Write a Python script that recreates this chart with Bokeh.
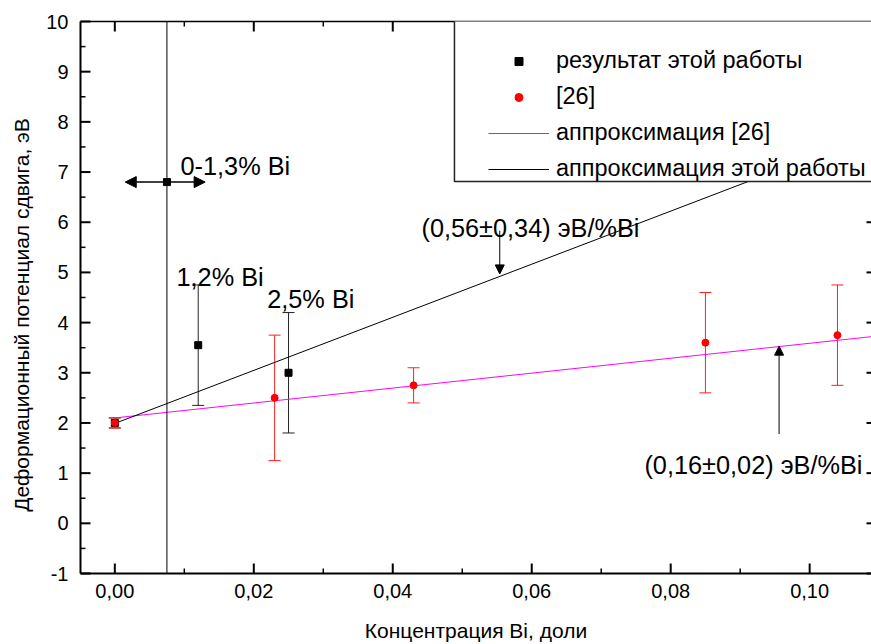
from bokeh.plotting import figure
from bokeh.models import (Range1d, LinearAxis, FixedTicker, CustomJSTickFormatter,
                          Whisker, ColumnDataSource, Span, Arrow, NormalHead, TeeHead, Label,
                          Legend, LegendItem, BoxAnnotation)
from bokeh.embed import file_html
from bokeh.resources import INLINE

# ---------------- data ----------------
# this work
work_x = [0.0, 0.012, 0.025]
work_y = [2.0, 3.55, 3.0]
work_lo = [1.9, 2.35, 1.8]
work_hi = [2.1, 4.75, 4.2]
# this work, averaged point for 0-1.3 % Bi
range_x = [0.0075]
range_y = [6.8]
range_x_lo = [0.0015]
range_x_hi = [0.013]
# reference [26]
ref_x = [0.0, 0.023, 0.043, 0.085, 0.104]
ref_y = [2.0, 2.5, 2.75, 3.6, 3.75]
ref_lo = [1.9, 1.25, 2.4, 2.6, 2.75]
ref_hi = [2.1, 3.75, 3.1, 4.6, 4.75]
# fits (end points)
fit_ref_x = [0.0, 0.1089]
fit_ref_y = [2.10, 3.72]
fit_work_x = [0.0, 0.1089]
fit_work_y = [1.99, 7.75]

# ticks
x_major = [0.0, 0.02, 0.04, 0.06, 0.08, 0.10]
x_minor = [0.01, 0.03, 0.05, 0.07, 0.09]
y_major = [-1, 0, 1, 2, 3, 4, 5, 6, 7, 8, 9, 10]
y_minor = [-0.5, 0.5, 1.5, 2.5, 3.5, 4.5, 5.5, 6.5, 7.5, 8.5, 9.5]

legend_labels = ["результат этой работы", "[26]", "аппроксимация [26]", "аппроксимация этой работы"]
x_title = "Концентрация Bi, доли"
y_title = "Деформационный потенциал сдвига, эВ"

FONT = "Liberation Sans"
W, H = 871, 644
BL, BR, BT, BB = 80, 0, 21, 71
X0, X1, Y0, Y1 = -0.00494, 0.1089, -1, 10
LEG_LEFT, LEG_BOTTOM = 0.04888, 6.81   # legend box corner (layout)

p = figure(width=W, height=H, output_backend="svg", toolbar_location=None,
           x_range=Range1d(X0, X1), y_range=Range1d(Y0, Y1),
           x_axis_type=None, y_axis_type=None,
           min_border_left=BL, min_border_right=BR, min_border_top=BT, min_border_bottom=BB)
p.outline_line_color = None
p.background_fill_color = None
p.border_fill_color = "white"

xt = FixedTicker(ticks=x_major, minor_ticks=x_minor)
yt = FixedTicker(ticks=y_major, minor_ticks=y_minor)


def label_axis(ax, lw=2):
    ax.axis_line_width = lw
    ax.axis_line_color = "black"
    ax.major_tick_line_color = None
    ax.minor_tick_line_color = None
    ax.major_tick_in = 0
    ax.major_tick_out = 0
    ax.minor_tick_in = 0
    ax.minor_tick_out = 0
    ax.major_label_text_font = FONT
    ax.major_label_text_font_size = "20px"
    ax.major_label_text_color = "black"
    ax.axis_label_text_font = FONT
    ax.axis_label_text_font_size = "21px"
    ax.axis_label_text_font_style = "normal"
    ax.axis_label_text_color = "black"


bottom = LinearAxis(ticker=xt, axis_label=x_title,
                    formatter=CustomJSTickFormatter(code="return tick.toFixed(2).replace('.', ',')"))
label_axis(bottom)
bottom.major_label_standoff = 10
bottom.axis_label_standoff = 18
p.add_layout(bottom, "below")

left = LinearAxis(ticker=yt, axis_label=y_title + "\u00a0" * 6,
                  formatter=CustomJSTickFormatter(code="return tick.toFixed(0)"))
label_axis(left)
left.major_label_standoff = 12
left.axis_label_standoff = 10
p.add_layout(left, "left")

top = LinearAxis(ticker=xt, formatter=CustomJSTickFormatter(code="return ''"))
label_axis(top, lw=1.5)
top.major_label_text_font_size = "0px"
top.major_label_standoff = 0
p.add_layout(top, "above")

# inward tick marks (pixel lengths converted to data units), drawn on the overlay level
dx = (X1 - X0) / (W - BL - BR)
dy = (Y1 - Y0) / (H - BT - BB)


def vticks(xs, y_edge, length_px, direction, lw):
    if not xs:
        return
    r = p.segment(x0=xs, y0=[y_edge] * len(xs), x1=xs,
                  y1=[y_edge + direction * length_px * dy] * len(xs),
                  line_color="black", line_width=lw)
    r.level = "overlay"


def hticks(ys, x_edge, length_px, direction, lw):
    if not ys:
        return
    r = p.segment(x0=[x_edge] * len(ys), y0=ys,
                  x1=[x_edge + direction * length_px * dx] * len(ys), y1=ys,
                  line_color="black", line_width=lw)
    r.level = "overlay"


vticks(x_major, Y0, 10, 1, 2)
vticks(x_minor, Y0, 5, 1, 1.5)
vticks([v for v in x_major if v < LEG_LEFT], Y1, 10, -1, 2)
vticks([v for v in x_minor if v < LEG_LEFT], Y1, 5, -1, 1.5)
hticks(y_major, X0, 10, 1, 2)
hticks(y_minor, X0, 5, 1, 1.5)
hticks([v for v in y_major if v < LEG_BOTTOM], X1, 5, -1, 2)

# vertical marker line
p.add_layout(Span(location=range_x[0], dimension="height", line_color="black", line_width=1))

# fits
r_fit_ref = p.line(fit_ref_x, fit_ref_y, line_color="#ff00ff", line_width=1)
r_fit_work = p.line(fit_work_x, fit_work_y, line_color="black", line_width=1)

# error bars
src_w = ColumnDataSource(dict(x=work_x, y=work_y, lo=work_lo, hi=work_hi))
src_r = ColumnDataSource(dict(x=ref_x, y=ref_y, lo=ref_lo, hi=ref_hi))
p.add_layout(Whisker(source=src_w, base="x", lower="lo", upper="hi", dimension="height",
                     line_color="#222222", line_width=1,
                     upper_head=TeeHead(size=12, line_color="#222222", line_width=1),
                     lower_head=TeeHead(size=12, line_color="#222222", line_width=1)))
p.add_layout(Whisker(source=src_r, base="x", lower="lo", upper="hi", dimension="height",
                     line_color="#ff2020", line_width=1,
                     upper_head=TeeHead(size=12, line_color="#ff2020", line_width=1),
                     lower_head=TeeHead(size=12, line_color="#ff2020", line_width=1)))

# horizontal range arrows
for xe in (range_x_lo[0], range_x_hi[0]):
    p.add_layout(Arrow(x_start=range_x[0], y_start=range_y[0], x_end=xe, y_end=range_y[0],
                       line_width=1.5, line_color="black",
                       end=NormalHead(size=11, fill_color="black", line_color="black")))

# markers
r_work = p.scatter(work_x, work_y, marker="square", size=7, color="black")
p.scatter(range_x, range_y, marker="square", size=7, color="black")
r_ref = p.scatter(ref_x, ref_y, marker="circle", size=7, color="#ff0000")

# slope arrows
p.add_layout(Arrow(x_start=0.0554, y_start=5.83, x_end=0.0554, y_end=4.97, line_width=1,
                   end=NormalHead(size=9, fill_color="black", line_color="black")))
p.add_layout(Arrow(x_start=0.0956, y_start=1.78, x_end=0.0956, y_end=3.53, line_width=1,
                   end=NormalHead(size=9, fill_color="black", line_color="black")))

# text labels
for txt, lx, ly in [("0-1,3% Bi", 0.00945, 7.13),
                    ("1,2% Bi", 0.00888, 4.90),
                    ("2,5% Bi", 0.02193, 4.47),
                    ("(0,56±0,34) эВ/%Bi", 0.04413, 5.89),
                    ("(0,16±0,02) эВ/%Bi", 0.07622, 1.17)]:
    p.add_layout(Label(x=lx, y=ly, text=txt, text_font=FONT, text_font_size="25.3px",
                       text_color="black", text_baseline="alphabetic"))

# legend frame
p.add_layout(BoxAnnotation(left=LEG_LEFT, right=0.12, bottom=LEG_BOTTOM, top=10.03,
                           fill_color="white", fill_alpha=1.0, line_color="#222222",
                           line_width=1.5, line_alpha=1.0))

legend = Legend(items=[LegendItem(label=legend_labels[0], renderers=[r_work]),
                       LegendItem(label=legend_labels[1], renderers=[r_ref]),
                       LegendItem(label=legend_labels[2], renderers=[r_fit_ref]),
                       LegendItem(label=legend_labels[3], renderers=[r_fit_work])],
                location=(408, 391), margin=0, padding=5, spacing=9,
                glyph_width=61, glyph_height=20, label_standoff=7,
                label_text_font=FONT, label_text_font_size="23.5px", label_text_color="black",
                background_fill_alpha=0, border_line_color=None)
p.add_layout(legend)

open("out.html", "w").write(file_html(p, INLINE))
